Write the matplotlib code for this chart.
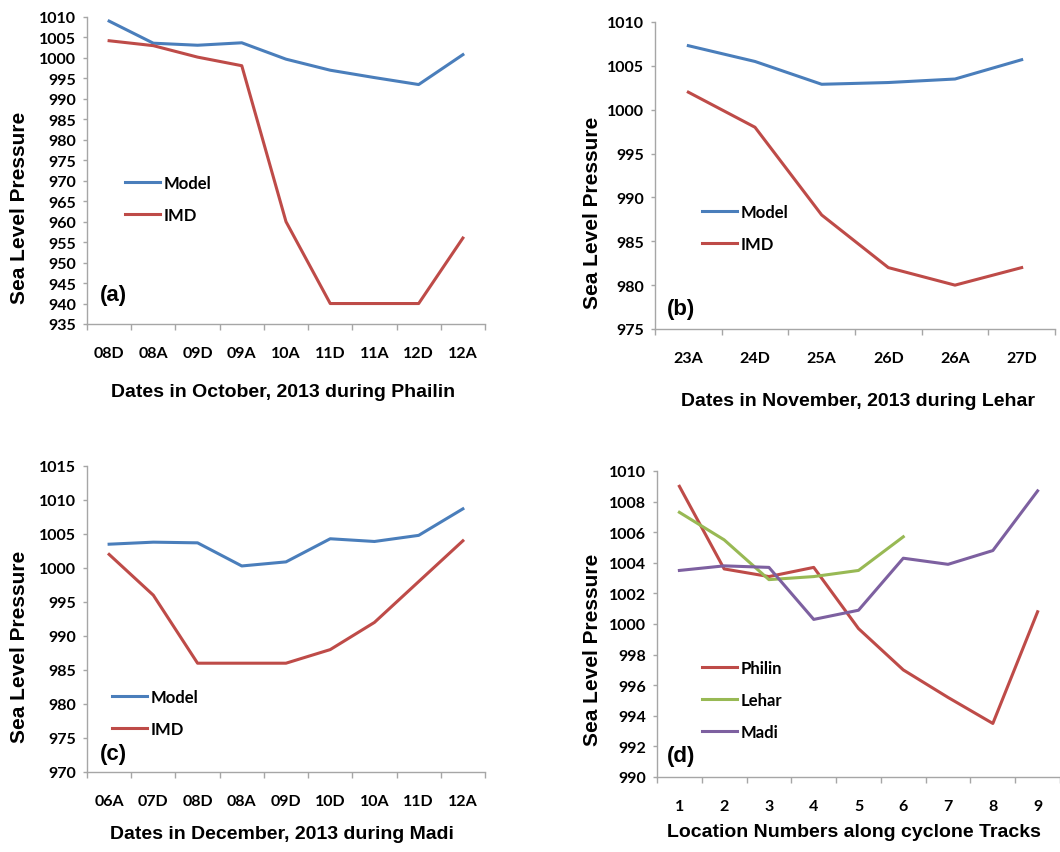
import numpy as np
import matplotlib
matplotlib.use("Agg")
import matplotlib.pyplot as plt
from matplotlib.lines import Line2D

W, H = 1060, 853

# sea level pressure (hPa) along the three cyclone tracks
phailin_dates = ["08D", "08A", "09D", "09A", "10A", "11D", "11A", "12D", "12A"]
phailin_model = [1009.0, 1003.6, 1003.1, 1003.7, 999.7, 997.0, 995.2, 993.5, 1000.8]
phailin_imd = [1004.2, 1003.0, 1000.2, 998.1, 960.0, 940.0, 940.0, 940.0, 956.0]

lehar_dates = ["23A", "24D", "25A", "26D", "26A", "27D"]
lehar_model = [1007.3, 1005.5, 1002.9, 1003.1, 1003.5, 1005.7]
lehar_imd = [1002.0, 998.0, 988.0, 982.0, 980.0, 982.0]

madi_dates = ["06A", "07D", "08D", "08A", "09D", "10D", "10A", "11D", "12A"]
madi_model = [1003.5, 1003.8, 1003.7, 1000.3, 1000.9, 1004.3, 1003.9, 1004.8, 1008.7]
madi_imd = [1002.0, 996.0, 986.0, 986.0, 986.0, 988.0, 992.0, 998.0, 1004.0]

locations = ["1", "2", "3", "4", "5", "6", "7", "8", "9"]

BLUE = "#4a7ebb"
RED = "#be4b48"
GREEN = "#98b954"
PURPLE = "#7d60a0"
SPINE = "#a6a6a6"

TICK_FONT = dict(family="Lato", weight="bold", size=11.5)

fig = plt.figure(figsize=(W / 100, H / 100), dpi=100)


def px_axes(l, t, r, b):
    return fig.add_axes([l / W, 1 - b / H, (r - l) / W, (b - t) / H])


def setup(ax, cats, ylim, ystep):
    n = len(cats)
    ax.set_xlim(-0.5, n - 0.5)
    ax.set_ylim(*ylim)
    ax.set_yticks(np.arange(ylim[0], ylim[1] + 0.1, ystep))
    ax.set_xticks(range(n))
    ax.set_xticklabels(cats)
    ax.set_xticks(np.arange(-0.5, n, 1.0), minor=True)
    ax.tick_params(axis="x", which="major", length=0, pad=16)
    ax.tick_params(axis="x", which="minor", length=4, color=SPINE, width=1)
    ax.tick_params(axis="y", length=3, color=SPINE, width=1, pad=5)
    for lab in ax.get_xticklabels() + ax.get_yticklabels():
        lab.set(**TICK_FONT)
    for s in ["top", "right"]:
        ax.spines[s].set_visible(False)
    for s in ["left", "bottom"]:
        ax.spines[s].set_color(SPINE)
        ax.spines[s].set_linewidth(1)


def legend(ax, handles, x, y):
    return ax.legend(handles=handles, loc="upper left", bbox_to_anchor=(x, y),
                     frameon=False, handlelength=2.1, handletextpad=0.2,
                     labelspacing=0.95, borderpad=0, borderaxespad=0,
                     prop=dict(family="Lato", weight="bold", size=12))


def line(color, label):
    return Line2D([], [], color=color, lw=2.2, label=label)


def texts(xl, xlab, yl, tag_pos, tag):
    fig.text(xl[0] / W, 1 - xl[1] / H, xlab, ha="center", va="center",
             family="Liberation Sans", weight="bold", size=14)
    fig.text(yl[0] / W, 1 - yl[1] / H, "Sea Level Pressure", ha="center", va="center",
             rotation=90, family="Liberation Sans", weight="bold", size=15)
    fig.text(tag_pos[0] / W, 1 - tag_pos[1] / H, tag, ha="left", va="center",
             family="Liberation Sans", weight="bold", size=16)


# (a) Phailin
ax = px_axes(87, 18, 485, 325)
x = np.arange(len(phailin_dates))
ax.plot(x, phailin_model, color=BLUE, lw=2.2)
ax.plot(x, phailin_imd, color=RED, lw=2.2)
setup(ax, phailin_dates, (935, 1010), 5)
legend(ax, [line(BLUE, "Model"), line(RED, "IMD")], 0.095, 0.486)
texts((283, 393), "Dates in October, 2013 during Phailin", (20, 208), (100, 295), "(a)")

# (b) Lehar
ax = px_axes(655, 23, 1055, 330)
x = np.arange(len(lehar_dates))
ax.plot(x, lehar_model, color=BLUE, lw=2.2)
ax.plot(x, lehar_imd, color=RED, lw=2.2)
setup(ax, lehar_dates, (975, 1010), 5)
legend(ax, [line(BLUE, "Model"), line(RED, "IMD")], 0.118, 0.408)
texts((858, 402), "Dates in November, 2013 during Lehar", (592, 213), (667, 310), "(b)")

# (c) Madi
ax = px_axes(87, 467, 485, 773)
x = np.arange(len(madi_dates))
ax.plot(x, madi_model, color=BLUE, lw=2.2)
ax.plot(x, madi_imd, color=RED, lw=2.2)
setup(ax, madi_dates, (970, 1015), 5)
legend(ax, [line(BLUE, "Model"), line(RED, "IMD")], 0.063, 0.272)
texts((282, 835), "Dates in December, 2013 during Madi", (20, 647), (100, 755), "(c)")

# (d) all three model tracks by location number
ax = px_axes(657, 472, 1060, 778)
ax.plot(np.arange(len(phailin_model)), phailin_model, color=RED, lw=2.2)
ax.plot(np.arange(len(lehar_model)), lehar_model, color=GREEN, lw=2.2)
ax.plot(np.arange(len(madi_model)), madi_model, color=PURPLE, lw=2.2)
setup(ax, locations, (990, 1010), 2)
legend(ax, [line(RED, "Philin"), line(GREEN, "Lehar"), line(PURPLE, "Madi")], 0.112, 0.382)
texts((854, 833), "Location Numbers along cyclone Tracks", (592, 650), (667, 757), "(d)")

fig.savefig("out.png", dpi=100)
